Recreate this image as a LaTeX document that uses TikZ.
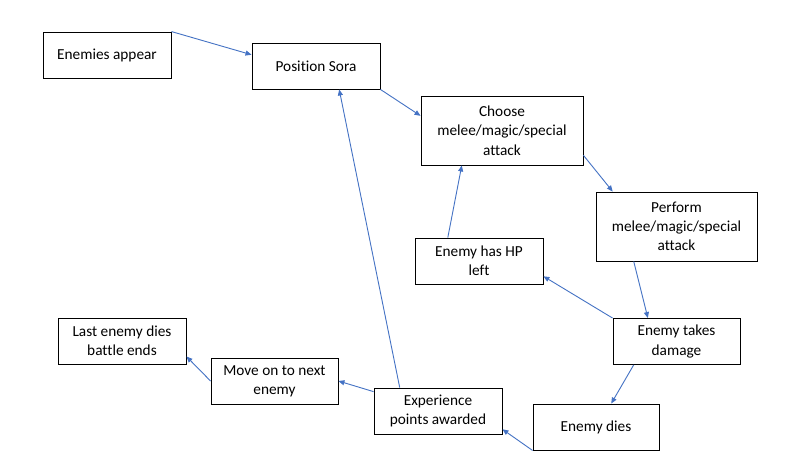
\documentclass[tikz,border=0pt]{standalone}
\usepackage{fontspec}
\setmainfont{Carlito}[Ligatures={NoCommon}]
\usetikzlibrary{arrows.meta,calc}
\definecolor{arrowblue}{HTML}{4472C4}
\tikzset{
  box/.style={draw=black, line width=0.9pt, fill=white, rectangle, align=center,
    inner sep=0pt, font=\fontsize{15.3}{19.3}\selectfont},
  smallbox/.style={box, minimum width=128pt, minimum height=46pt},
  bigbox/.style={box, minimum width=162pt, minimum height=69pt},
  conn/.style={draw=arrowblue, line width=0.9pt, -{Triangle[length=6pt,width=5pt]}}
}
\begin{document}
\begin{tikzpicture}[x=1pt,y=-1pt]
\useasboundingbox[fill=white] (0,0) rectangle (787,474);
\node[smallbox] (ea) at (107,55) {Enemies appear};
\node[smallbox] (ps) at (316,66) {Position Sora};
\node[bigbox] (ch) at (502,130.5) {Choose\\melee/magic/special\\attack};
\node[bigbox, minimum width=161pt] (pf) at (676.5,226.5) {Perform\\melee/magic/special\\attack};
\node[smallbox] (hp) at (479,261) {Enemy has HP\\left};
\node[smallbox, minimum width=127pt] (td) at (676.5,341.5) {Enemy takes\\damage};
\node[smallbox, minimum width=126pt] (ed) at (596,427) {Enemy dies};
\node[smallbox] (xp) at (438,411) {Experience\\points awarded};
\node[smallbox, minimum width=127pt] (mv) at (274.5,381) {Move on to next\\enemy};
\node[smallbox] (le) at (122,341) {Last enemy dies\\battle ends};

\draw[conn] (ea.north east) -- ($(ps.north west)!0.26!(ps.south west)$);
\draw[conn] (ps.south east) -- ($(ch.north west)!0.29!(ch.south west)$);
\draw[conn] ($(ch.north east)!0.855!(ch.south east)$) -- ($(pf.north west)!0.106!(pf.north east)$);
\draw[conn] ($(pf.south west)!0.236!(pf.south east)$) -- ($(td.north west)!0.276!(td.north east)$);
\draw[conn] (td.north west) -- ($(hp.north east)!0.826!(hp.south east)$);
\draw[conn] ($(hp.north west)!0.258!(hp.north east)$) -- ($(ch.south west)!0.253!(ch.south east)$);
\draw[conn] ($(td.south west)!0.165!(td.south east)$) -- ($(ed.north west)!0.62!(ed.north east)$);
\draw[conn] (ed.south west) -- ($(xp.north east)!0.89!(xp.south east)$);
\draw[conn] ($(xp.north west)!0.203!(xp.north east)$) -- ($(ps.south west)!0.68!(ps.south east)$);
\draw[conn] ($(xp.north west)!0.087!(xp.south west)$) -- (mv.east);
\draw[conn] (mv.west) -- ($(le.north east)!0.83!(le.south east)$);
\end{tikzpicture}
\end{document}
